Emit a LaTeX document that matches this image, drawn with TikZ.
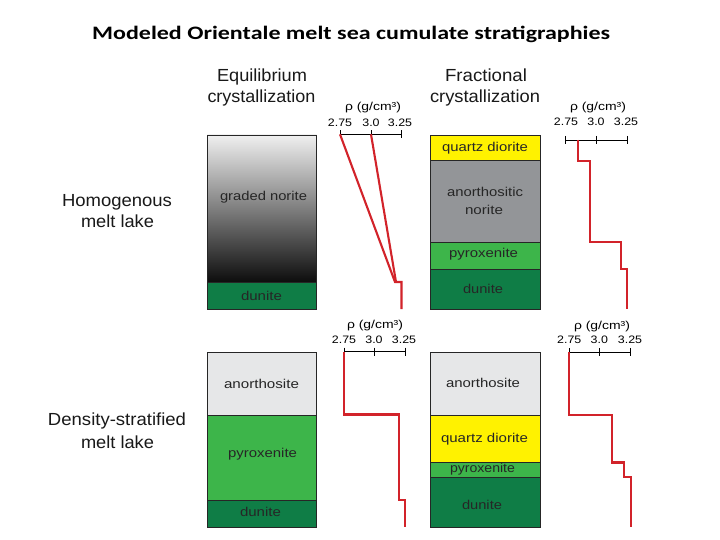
\documentclass[tikz,border=0pt]{standalone}
\usepackage{fontspec}
\setmainfont{Liberation Sans}
\newfontfamily\titlefont{Carlito}
\definecolor{dun}{HTML}{0F7D46}
\definecolor{pyx}{HTML}{3DB54A}
\definecolor{qtz}{HTML}{FFF200}
\definecolor{anN}{HTML}{939598}
\definecolor{anL}{HTML}{E6E7E8}
\definecolor{redc}{HTML}{D2232A}
\newcommand\tw[2]{\resizebox{#1pt}{\height}{#2}}
\newcommand\dax[4]{%
  \draw[axis] (#1,#4) -- (#3,#4);
  \foreach \xx in {#1,#2,#3} \draw[axis] (\xx,#4-4) -- (\xx,#4+4);}
\begin{document}
\begin{tikzpicture}[x=1pt,y=-1pt,
  every node/.style={inner sep=0pt, anchor=base},
  lay/.style={draw=black!85, line width=0.8pt},
  lbl/.style={font=\fontsize{12.8}{14}\selectfont, text=black!85},
  hdr/.style={font=\fontsize{17.5}{20}\selectfont, text=black!90},
  rho/.style={font=\fontsize{11.5}{13}\selectfont},
  num/.style={font=\fontsize{10.8}{12}\selectfont},
  prof/.style={draw=redc, line width=2.1pt, line join=miter},
  axis/.style={draw=black, line width=0.9pt}]
\fill[white] (0,0) rectangle (720,540);
\useasboundingbox (0,0) rectangle (720,540);

% title
\node[anchor=base west, font=\titlefont\bfseries\fontsize{19}{22}\selectfont] (title) at (92,40)
  {\tw{518}{Modeled Orientale melt sea cumulate stratigraphies}};

% headers
\node[hdr] (h1a) at (262,82) {\tw{90}{Equilibrium}};
\node[hdr] (h1b) at (261.5,102.5) {\tw{108}{crystallization}};
\node[hdr] (h2a) at (486,82) {\tw{82}{Fractional}};
\node[hdr] (h2b) at (485,102.5) {\tw{110}{crystallization}};

% side labels
\node[hdr] (s1a) at (117,206) {\tw{110}{Homogenous}};
\node[hdr] (s1b) at (117.5,227) {\tw{73}{melt lake}};
\node[hdr] (s2a) at (117,425.5) {\tw{138}{Density-stratified}};
\node[hdr] (s2b) at (117.5,448) {\tw{73}{melt lake}};

% ---- top-left column (equilibrium, homogenous)
\shade[top color=white!94!black, bottom color=black!95] (207.3,135) rectangle (316.7,282.3);
\draw[lay] (207.3,135) rectangle (316.7,282.3);
\draw[lay, fill=dun] (207.3,282.3) rectangle (316.7,309);
\node[lbl] (l1) at (263.5,200.5) {\tw{87}{graded norite}};
\node[lbl] (l2) at (261.5,300) {\tw{41}{dunite}};

% ---- top-right column (fractional, homogenous)
\draw[lay, fill=qtz] (430,135) rectangle (540,160.7);
\draw[lay, fill=anN] (430,160.7) rectangle (540,242.3);
\draw[lay, fill=pyx] (430,242.3) rectangle (540,269.3);
\draw[lay, fill=dun] (430,269.3) rectangle (540,309);
\node[lbl] (r1) at (485,152) {\tw{86}{quartz diorite}};
\node[lbl] (r2) at (485,196.5) {\tw{76}{anorthositic}};
\node[lbl] (r3) at (484,214.5) {\tw{38}{norite}};
\node[lbl] (r4) at (483.5,258) {\tw{69}{pyroxenite}};
\node[lbl] (r5) at (483,293) {\tw{40}{dunite}};

% ---- bottom-left column (equilibrium, stratified)
\draw[lay, fill=anL] (207.3,352.7) rectangle (316.7,415);
\draw[lay, fill=pyx] (207.3,415) rectangle (316.7,500);
\draw[lay, fill=dun] (207.3,500) rectangle (316.7,527.3);
\node[lbl] (b1) at (261.5,388.5) {\tw{75}{anorthosite}};
\node[lbl] (b2) at (262.5,457) {\tw{69}{pyroxenite}};
\node[lbl] (b3) at (260.5,516) {\tw{41}{dunite}};

% ---- bottom-right column (fractional, stratified)
\draw[lay, fill=anL] (430,352.7) rectangle (540,415);
\draw[lay, fill=qtz] (430,415) rectangle (540,462.3);
\draw[lay, fill=pyx] (430,462.3) rectangle (540,477.3);
\draw[lay, fill=dun] (430,477.3) rectangle (540,527.3);
\node[lbl] (c1) at (483,387.5) {\tw{74}{anorthosite}};
\node[lbl] (c2) at (484.5,442) {\tw{87}{quartz diorite}};
\node[lbl] (c3) at (482.5,472.5) {\tw{65}{pyroxenite}};
\node[lbl] (c4) at (482,509) {\tw{40}{dunite}};

% ---- density axes and labels
\dax{340}{371}{401}{134.3}
\node[rho] (p1) at (373,111) {\tw{56}{ρ (g/cm³)}};
\node[num] (p1a) at (340,126.7) {\scalebox{1.15}[1]{2.75}};
\node[num] (p1b) at (371,126.7) {\scalebox{1.15}[1]{3.0}};
\node[num] (p1c) at (400,126.7) {\scalebox{1.15}[1]{3.25}};

\dax{565}{596}{627}{140}
\node[rho] (p2) at (598,111) {\tw{56}{ρ (g/cm³)}};
\node[num] (p2a) at (566,126) {\scalebox{1.15}[1]{2.75}};
\node[num] (p2b) at (596,126) {\scalebox{1.15}[1]{3.0}};
\node[num] (p2c) at (626,126) {\scalebox{1.15}[1]{3.25}};

\dax{344}{374}{405}{351.7}
\node[rho] (p3) at (375,328.5) {\tw{56}{ρ (g/cm³)}};
\node[num] (p3a) at (344,343) {\scalebox{1.15}[1]{2.75}};
\node[num] (p3b) at (374,343) {\scalebox{1.15}[1]{3.0}};
\node[num] (p3c) at (404,343) {\scalebox{1.15}[1]{3.25}};

\dax{569.3}{599.3}{630.7}{352.3}
\node[rho] (p4) at (602,329) {\tw{56}{ρ (g/cm³)}};
\node[num] (p4a) at (569.3,343.3) {\scalebox{1.15}[1]{2.75}};
\node[num] (p4b) at (599.3,343.3) {\scalebox{1.15}[1]{3.0}};
\node[num] (p4c) at (630,343.3) {\scalebox{1.15}[1]{3.25}};

% ---- density profiles
\draw[prof] (340,134.3) -- (395,282) -- (401.5,282) -- (401.5,309);
\draw[prof] (371,134.3) -- (396,282);
\draw[prof] (578,140) -- (578,160.7) -- (590,160.7) -- (590,242.3) -- (621,242.3)
  -- (621,269.3) -- (627,269.3) -- (627,309);
\draw[prof] (344,351.7) -- (344,414.5) -- (399,414.5) -- (399,500) -- (405,500) -- (405,527);
\draw[prof] (569.3,352.3) -- (569.3,415) -- (612.3,415) -- (612.3,462.5) -- (624,462.5)
  -- (624,477.3) -- (630.7,477.3) -- (630.7,527);
\end{tikzpicture}
\end{document}
